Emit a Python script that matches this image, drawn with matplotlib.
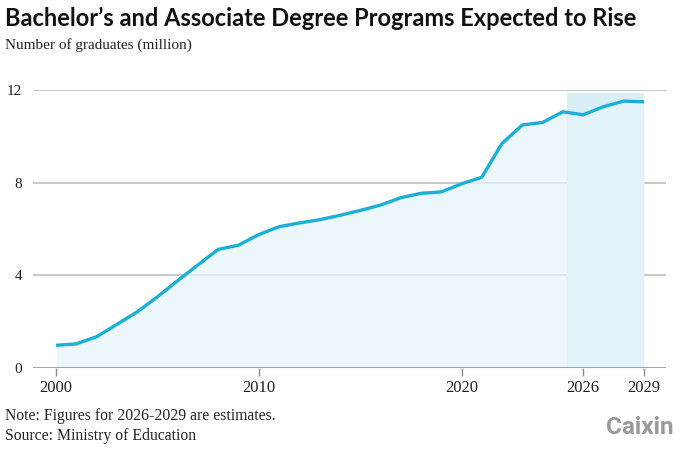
import matplotlib
matplotlib.use("Agg")
import matplotlib.pyplot as plt
import numpy as np

# ---- data ----
years = list(range(2000, 2030))
graduates = [0.98, 1.04, 1.35, 1.88, 2.42, 3.07, 3.77, 4.45, 5.12, 5.30,
             5.76, 6.10, 6.26, 6.40, 6.59, 6.80, 7.03, 7.35, 7.54, 7.60,
             7.95, 8.23, 9.70, 10.49, 10.60, 11.06, 10.93, 11.28, 11.52, 11.49]
x_ticks = [2000, 2010, 2020, 2026, 2029]
y_ticks = [0, 4, 8, 12]
forecast_range = (2025.2, 2029)

title = "Bachelor\u2019s and Associate Degree Programs Expected to Rise"
subtitle = "Number of graduates (million)"
note = "Note: Figures for 2026-2029 are estimates."
source = "Source: Ministry of Education"

LINE = "#1aafd6"
SERIF = ["Liberation Serif", "DejaVu Serif"]

W, H = 680, 453
fig = plt.figure(figsize=(W / 100, H / 100), dpi=100)
fig.patch.set_facecolor("white")

left_px, right_px = 33, 666
bottom_px, top_px = 368, 90
ax = fig.add_axes([left_px / W, 1 - bottom_px / H,
                   (right_px - left_px) / W, (bottom_px - top_px) / H])

px_per_year = (644 - 56) / 29.0
ax.set_xlim(years[0] - (56 - left_px) / px_per_year,
            years[-1] + (right_px - 644) / px_per_year)
ax.set_ylim(0, 12)

# gridlines
for yv in y_ticks[1:]:
    ax.axhline(yv, color="#b8b8b8", lw=1.1, zorder=0)

# forecast span
ax.fill_between(forecast_range, 0, 11.85, color="#d8eff8", lw=0, zorder=1)

# area fill
ax.fill_between(years, 0, graduates, color="#e6f5fa", alpha=0.75, lw=0, zorder=2)

# line
ax.plot(years, graduates, color=LINE, lw=2.4, solid_joinstyle="round",
        solid_capstyle="butt", zorder=4)

# x axis line
ax.axhline(0, color="#8a8a8a", lw=1.1, zorder=5)

for s in ax.spines.values():
    s.set_visible(False)

ax.set_yticks(y_ticks)
ax.set_yticklabels([str(v) for v in y_ticks], family=SERIF, fontsize=11,
                   color="#222222")
ax.tick_params(axis="y", length=0, pad=8)

ax.set_xticks(x_ticks)
ax.set_xticklabels([str(v) for v in x_ticks], family=SERIF, fontsize=12,
                   color="#222222")
ax.tick_params(axis="x", length=6, width=1, color="#8a8a8a", pad=3)

# texts
fig.text(5 / W, 1 - 18 / H, title, family=["Lato", "DejaVu Sans"],
         fontweight="bold", fontsize=17, color="#111111", va="center", ha="left")
fig.text(5 / W, 1 - 45 / H, subtitle, family=SERIF, fontsize=11,
         color="#222222", va="center", ha="left")
fig.text(5 / W, 1 - 416 / H, note, family=SERIF, fontsize=11.3,
         color="#222222", va="center", ha="left")
fig.text(5 / W, 1 - 436 / H, source, family=SERIF, fontsize=11.3,
         color="#222222", va="center", ha="left")
fig.text(674 / W, 1 - 427 / H, "Caixin", family=["Roboto", "DejaVu Sans"],
         fontweight="bold", fontsize=17.5, color="#9a9a9a", va="center", ha="right")

fig.savefig("out.png", dpi=100, facecolor="white")
